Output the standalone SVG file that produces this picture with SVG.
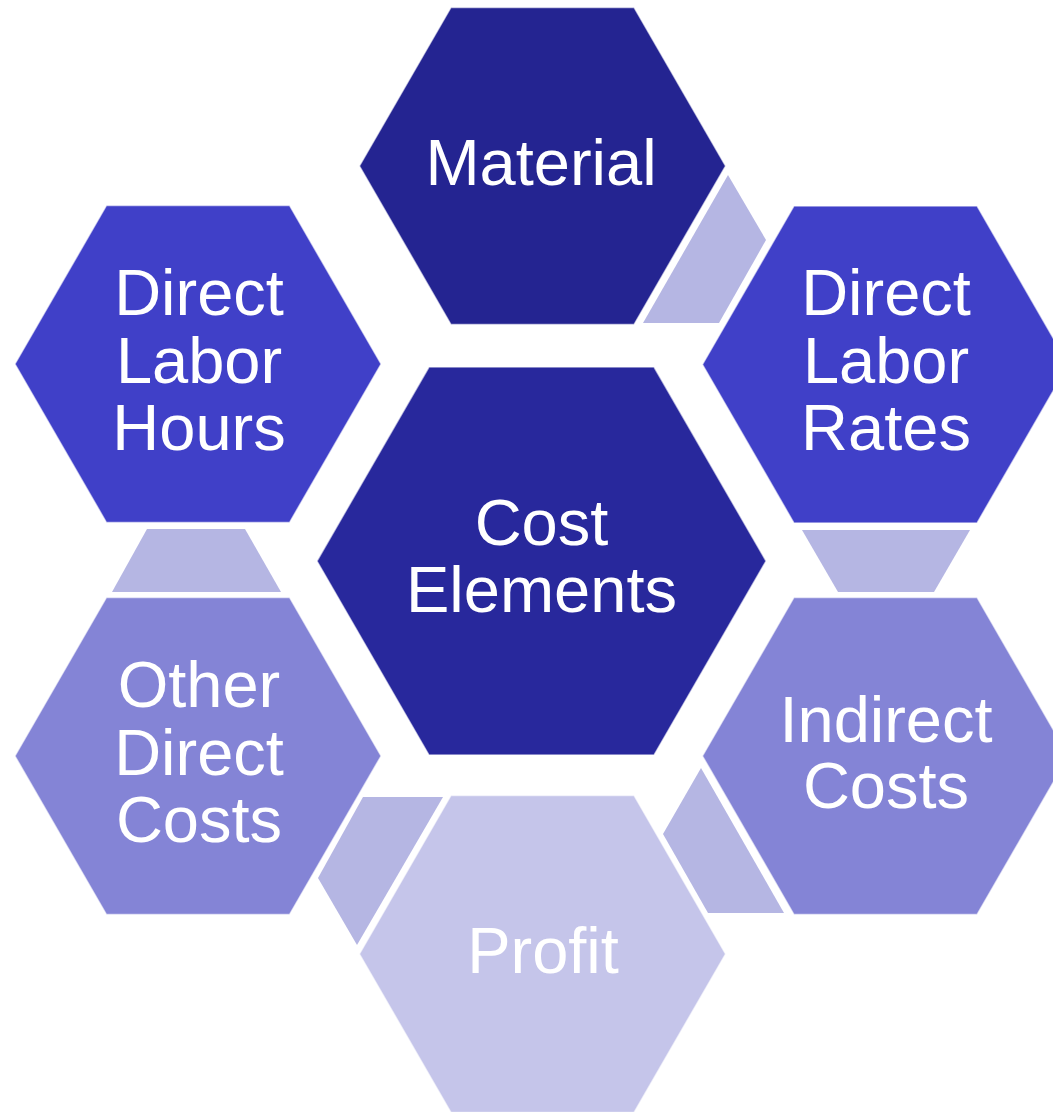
<svg xmlns="http://www.w3.org/2000/svg" width="1053" height="1112" viewBox="0 0 1053 1112">
<defs>
<style>
.hex{stroke:#ffffff;stroke-width:1.5;stroke-opacity:0.6}
.dark{fill:#242491}
.core{fill:#28289c}
.mid{fill:#4040c8}
.soft{fill:#8484d6}
.pale{fill:#c5c5ea}
.conn{fill:#b5b6e3}
text{font-family:"Liberation Sans",Arial,sans-serif;font-size:65px;fill:#ffffff;text-anchor:middle}
</style>
</defs>
<rect width="1053" height="1112" fill="#ffffff"/>
<g id="connectors">
<polygon class="conn" points="728,175 766,240 719,323 643,323"/>
<polygon class="conn" points="147,529 245,529 281,592 112,592"/>
<polygon class="conn" points="802,530 970,530 934,592 838,592"/>
<polygon class="conn" points="363,797 443,797 357,945 318,878"/>
<polygon class="conn" points="701,768 784,913 708,913 663,834"/>
</g>
<g id="material">
<polygon class="hex dark" points="359.5,166 451,7.5 634,7.5 725.5,166 634,324.5 451,324.5"/>
<text x="541" y="185">Material</text>
</g>
<g id="direct-labor-hours">
<polygon class="hex mid" points="15,364 106.5,205.5 289.5,205.5 381,364 289.5,522.5 106.5,522.5"/>
<text x="199" y="315">Direct</text>
<text x="199" y="382.5">Labor</text>
<text x="199" y="450">Hours</text>
</g>
<g id="direct-labor-rates">
<polygon class="hex mid" points="702.5,364.5 794,206 977,206 1068.5,364.5 977,523 794,523"/>
<text x="886" y="315">Direct</text>
<text x="886" y="382.5">Labor</text>
<text x="886" y="450">Rates</text>
</g>
<g id="cost-elements">
<polygon class="hex core" points="317,561 429,367 654,367 766,561 654,755 429,755"/>
<text x="541.5" y="545">Cost</text>
<text x="541.5" y="612">Elements</text>
</g>
<g id="other-direct-costs">
<polygon class="hex soft" points="15,756 106.5,597.5 289.5,597.5 381,756 289.5,914.5 106.5,914.5"/>
<text x="199" y="707">Other</text>
<text x="199" y="775">Direct</text>
<text x="199" y="842">Costs</text>
</g>
<g id="indirect-costs">
<polygon class="hex soft" points="702.5,756 794,597.5 977,597.5 1068.5,756 977,914.5 794,914.5"/>
<text x="886" y="742">Indirect</text>
<text x="886" y="808">Costs</text>
</g>
<g id="profit">
<polygon class="hex pale" points="359.5,954 451,795.5 634,795.5 725.5,954 634,1112.5 451,1112.5"/>
<text x="543" y="973">Profit</text>
</g>
</svg>
